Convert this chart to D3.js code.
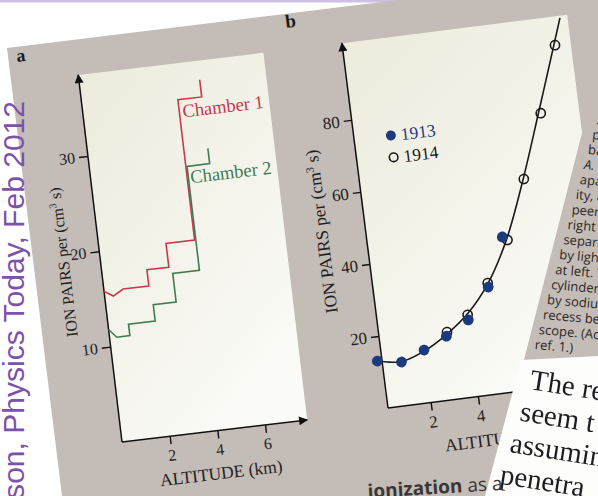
<!DOCTYPE html>
<html>
<head>
<meta charset="utf-8">
<script src="https://cdn.jsdelivr.net/npm/d3@7"></script>
<style>
  html, body { margin: 0; padding: 0; background: #fff; overflow: hidden; }
  svg { display: block; }
</style>
</head>
<body>
<script>
// ---- Panel a: Hess 1912 balloon flight, two ionization chambers ----
const chamber1Alt = [0, 0.36, 0.8, 1.88, 1.88, 2.8, 2.8, 4.0, 4.0, 5.0, 5.0];
const chamber1Ion = [15.8, 15.2, 15.8, 15.8, 17.5, 17.5, 20.0, 20.0, 34.7, 34.7, 36.5];
const chamber2Alt = [0, 0.3, 0.85, 0.85, 1.97, 1.97, 2.93, 2.93, 4.05, 4.05, 5.0, 5.0];
const chamber2Ion = [11.8, 10.9, 10.9, 12.1, 12.1, 13.8, 13.8, 16.8, 16.8, 27.7, 27.7, 29.3];
const chamberNames = ["Chamber 1", "Chamber 2"];
const chamberLabelAlt = [4.13, 4.13];
const chamberLabelIon = [32.8, 25.9];
const ticksAy = [10, 20, 30];
const ticksAx = [2, 4, 6];

// ---- Panel b: Kolhörster 1913 and 1914 flights ----
const alt1913 = [0, 1, 2, 3, 4, 5, 5.85];
const ion1913 = [13.2, 12.1, 14.6, 17.6, 21.3, 29.6, 42.8];
const alt1914 = [3.05, 4.0, 5.0, 6.05, 7.05, 8.1, 9.05];
const ion1914 = [18.7, 22.7, 30.7, 41.8, 57.9, 75.3, 93.4];
const fitAlt = [0, 0.5, 1, 2, 3, 4, 5, 6, 7, 8, 9, 9.4];
const fitIon = [13.2, 12.5, 12.2, 14.3, 18.0, 23.0, 30.5, 41.8, 57.5, 75.3, 93.4, 100.7];
const ticksBy = [20, 40, 60, 80];
const ticksBx = [2, 4];
const legendYears = ["1913", "1914"];

// ---- text around the figure ----
const sideNoteHidden = "Carl";
const sideNoteShown = "son, Physics Today, Feb 2012";
const captionLines = [".", "p", "ba", "A.", "apa", "ity, a", "peer", "right", "separa",
  "by ligh", "at left. T", "cylinder", "by sodiu", "recess bel", "scope. (Ada", "ref. 1.)"];
const bodyLines = ["The re", "seem t", "assumin", "penetra"];

const W = 598, H = 496;
const SERIF = "'Liberation Serif', 'Times New Roman', serif";
const SANS = "'Liberation Sans', Arial, sans-serif";
const INK = "#1c1c1c";
const PAGE = "#c4bcb7";

const svg = d3.select("body").append("svg").attr("width", W).attr("height", H);
const defs = svg.append("defs");

function creamGradient(id) {
  const g = defs.append("linearGradient").attr("id", id)
    .attr("x1", "0").attr("y1", "0").attr("x2", "0.5").attr("y2", "1");
  g.append("stop").attr("offset", "0").attr("stop-color", "#ecebdc");
  g.append("stop").attr("offset", "1").attr("stop-color", "#fafaf6");
}
creamGradient("creamA");
creamGradient("creamB");

defs.append("marker").attr("id", "arrow")
  .attr("viewBox", "0 0 10 10").attr("refX", 9).attr("refY", 5)
  .attr("markerWidth", 11).attr("markerHeight", 9)
  .attr("markerUnits", "userSpaceOnUse").attr("orient", "auto")
  .append("path").attr("d", "M0,0L10,5L0,10z").attr("fill", "#111");

defs.append("filter").attr("id", "soft")
  .append("feGaussianBlur").attr("stdDeviation", 0.7);

// background, top rule and the tilted page
svg.append("rect").attr("width", W).attr("height", H).attr("fill", "#ffffff");
svg.append("rect").attr("width", W).attr("height", 2.5).attr("fill", "#cdc0e2");
svg.append("g").attr("transform", "translate(7,48) rotate(-7)")
  .append("rect").attr("width", 900).attr("height", 700).attr("fill", PAGE);

// panel letters
svg.append("text").attr("x", 17).attr("y", 62).attr("transform", "rotate(-7,17,62)")
  .attr("font-family", SERIF).attr("font-weight", "bold").attr("font-size", 18)
  .attr("fill", INK).text("a");
svg.append("text").attr("x", 286).attr("y", 28).attr("transform", "rotate(-7,286,28)")
  .attr("font-family", SERIF).attr("font-weight", "bold").attr("font-size", 19)
  .attr("fill", INK).text("b");

function styleAxis(g, size) {
  g.attr("font-family", SERIF).attr("font-size", size);
  g.selectAll(".tick line").attr("stroke", "#111").attr("stroke-width", 1.4);
  g.selectAll(".tick text").attr("fill", "#222");
}

function yLabel(g, x, y, size) {
  const t = g.append("text")
    .attr("transform", `translate(${x},${y}) rotate(-90)`)
    .attr("text-anchor", "middle").attr("dy", "0.35em")
    .attr("font-family", SERIF).attr("font-size", size).attr("fill", "#222");
  t.append("tspan").text("ION PAIRS per (cm");
  t.append("tspan").attr("dy", -6).attr("font-size", size * 0.65).text("3");
  t.append("tspan").attr("dy", 6).text(" s)");
}

// ================= panel a =================
const gA = svg.append("g").attr("transform", "translate(122,442) rotate(-6.8)");
const xA = d3.scaleLinear().domain([0, 7.77]).range([0, 186.5]);
const yA = d3.scaleLinear().domain([0, 38.5]).range([0, -369.7]);

gA.append("rect").attr("x", 0).attr("y", yA(38.5))
  .attr("width", xA(7.77)).attr("height", -yA(38.5)).attr("fill", "url(#creamA)");

const axAy = gA.append("g")
  .call(d3.axisLeft(yA).tickValues(ticksAy).tickSize(9).tickPadding(4).tickSizeOuter(0));
axAy.select(".domain").remove();
styleAxis(axAy, 16);
const axAx = gA.append("g")
  .call(d3.axisBottom(xA).tickValues(ticksAx).tickSize(8).tickPadding(5).tickSizeOuter(0));
axAx.select(".domain").remove();
styleAxis(axAx, 16);

gA.append("line").attr("x1", 0).attr("y1", 0).attr("x2", 0).attr("y2", yA(38.5))
  .attr("stroke", "#111").attr("stroke-width", 1.5).attr("marker-end", "url(#arrow)");
gA.append("line").attr("x1", 0).attr("y1", 0).attr("x2", xA(7.77)).attr("y2", 0)
  .attr("stroke", "#111").attr("stroke-width", 1.5).attr("marker-end", "url(#arrow)");

const lineA = d3.line().x(d => xA(d[0])).y(d => yA(d[1]));
const chamberColors = ["#c8374d", "#3f7b52"];
[d3.zip(chamber1Alt, chamber1Ion), d3.zip(chamber2Alt, chamber2Ion)].forEach((pts, i) => {
  gA.append("path").datum(pts).attr("d", lineA)
    .attr("fill", "none").attr("stroke", chamberColors[i]).attr("stroke-width", 1.6)
    .attr("stroke-linejoin", "miter");
  gA.append("text").attr("x", xA(chamberLabelAlt[i])).attr("y", yA(chamberLabelIon[i]))
    .attr("font-family", SERIF).attr("font-size", 18.5).attr("fill", chamberColors[i])
    .text(chamberNames[i]);
});

yLabel(gA, -37, yA(19.3), 16);
gA.append("text").attr("x", xA(3.95)).attr("y", 48.5).attr("text-anchor", "middle")
  .attr("font-family", SERIF).attr("font-size", 17.5).attr("fill", "#222")
  .text("ALTITUDE (km)");

// ================= panel b =================
const gB = svg.append("g").attr("transform", "translate(388,408) rotate(-7.2)");
const xB = d3.scaleLinear().domain([0, 10]).range([-4.7, 233.8]);
const yB = d3.scaleLinear().domain([0, 101.3]).range([0, -367.7]);
const bWidth = 227;

gB.append("rect").attr("x", 0).attr("y", yB(101.3))
  .attr("width", bWidth).attr("height", -yB(101.3)).attr("fill", "url(#creamB)");

const axBy = gB.append("g")
  .call(d3.axisLeft(yB).tickValues(ticksBy).tickSize(8).tickPadding(4).tickSizeOuter(0));
axBy.select(".domain").remove();
styleAxis(axBy, 17);
const axBx = gB.append("g")
  .call(d3.axisBottom(xB).tickValues(ticksBx).tickSize(8).tickPadding(5).tickSizeOuter(0));
axBx.select(".domain").remove();
styleAxis(axBx, 17);

gB.append("line").attr("x1", 0).attr("y1", 0).attr("x2", 0).attr("y2", yB(101.3))
  .attr("stroke", "#111").attr("stroke-width", 1.5).attr("marker-end", "url(#arrow)");
gB.append("line").attr("x1", 0).attr("y1", 0).attr("x2", bWidth).attr("y2", 0)
  .attr("stroke", "#111").attr("stroke-width", 1.5).attr("marker-end", "url(#arrow)");

const lineB = d3.line().x(d => xB(d[0])).y(d => yB(d[1])).curve(d3.curveCatmullRom);
gB.append("path").datum(d3.zip(fitAlt, fitIon)).attr("d", lineB)
  .attr("fill", "none").attr("stroke", "#1a1a1a").attr("stroke-width", 1.6);

const NAVY = "#1c3b7f";
gB.selectAll("circle.y1914").data(d3.zip(alt1914, ion1914)).join("circle")
  .attr("class", "y1914").attr("cx", d => xB(d[0])).attr("cy", d => yB(d[1])).attr("r", 4.6)
  .attr("fill", "none").attr("stroke", "#1a1a1a").attr("stroke-width", 1.6);
gB.selectAll("circle.y1913").data(d3.zip(alt1913, ion1913)).join("circle")
  .attr("class", "y1913").attr("cx", d => xB(d[0])).attr("cy", d => yB(d[1])).attr("r", 5.4)
  .attr("fill", NAVY);

// legend
const leg = gB.append("g").attr("transform", "translate(37,-270)");
leg.append("circle").attr("cx", 0).attr("cy", 0).attr("r", 5).attr("fill", NAVY);
leg.append("circle").attr("cx", 0).attr("cy", 22).attr("r", 4.3)
  .attr("fill", "none").attr("stroke", "#1a1a1a").attr("stroke-width", 1.6);
legendYears.forEach((yr, i) => {
  leg.append("text").attr("x", 10).attr("y", i * 22).attr("dy", "0.35em")
    .attr("font-family", SERIF).attr("font-size", 17.5)
    .attr("fill", i === 0 ? NAVY : "#1a1a1a").text(yr);
});

yLabel(gB, -44, yB(50.5), 17.5);
gB.append("text").attr("x", bWidth / 2).attr("y", 50.5).attr("text-anchor", "middle")
  .attr("font-family", SERIF).attr("font-size", 17.5).attr("fill", "#222")
  .text("ALTITUDE (km)");

// ================= caption column and facing page =================
svg.append("polygon").attr("points", "582,133 600,131 600,360 524,360").attr("fill", PAGE);
captionLines.forEach((s, i) => {
  const x = 596 - 4.1 * i, y = 124 + 15 * i;
  svg.append("text").attr("x", x).attr("y", y).attr("transform", `rotate(5,${x},${y})`)
    .attr("font-family", "'Open Sans', sans-serif").attr("font-size", 13)
    .attr("font-style", s === "A." ? "italic" : "normal")
    .attr("fill", "#2c2826").text(s);
});

svg.append("polygon").attr("points", "521,360 600,356 600,500 484,500").attr("fill", "#fdfdfc");
const body = svg.append("g").attr("filter", "url(#soft)");
bodyLines.forEach((s, i) => {
  const x = 529 - 10 * i, y = 389 + 31.5 * i;
  body.append("text").attr("x", x).attr("y", y).attr("transform", `rotate(9,${x},${y})`)
    .attr("font-family", SERIF).attr("font-size", 29).attr("fill", "#1e1e22").text(s);
});

const bottomText = svg.append("text").attr("x", 368).attr("y", 498)
  .attr("transform", "rotate(-3.5,368,498)")
  .attr("font-family", "'Open Sans', sans-serif").attr("font-size", 19).attr("fill", "#3a3634");
bottomText.append("tspan").attr("font-weight", "bold").text("ionization");
bottomText.append("tspan").text(" as a");

// side note running up the left margin: its visible part ends at y = 101
// and spans about 398 px, so the font size is fitted to that length
const noteSize = 31;
const probe = svg.append("text").attr("font-family", SANS).attr("font-size", noteSize)
  .text(sideNoteShown);
const shownLen = probe.node().getComputedTextLength();
probe.remove();
const fitSize = noteSize * 398 / shownLen;
const note = svg.append("g").attr("transform", "translate(24,101) rotate(-90)")
  .append("text").attr("font-family", SANS).attr("font-size", fitSize)
  .attr("fill", "#7c52aa").text(sideNoteHidden + sideNoteShown);
const fullLen = note.node().getComputedTextLength();
note.attr("x", -fullLen);
</script>
</body>
</html>
